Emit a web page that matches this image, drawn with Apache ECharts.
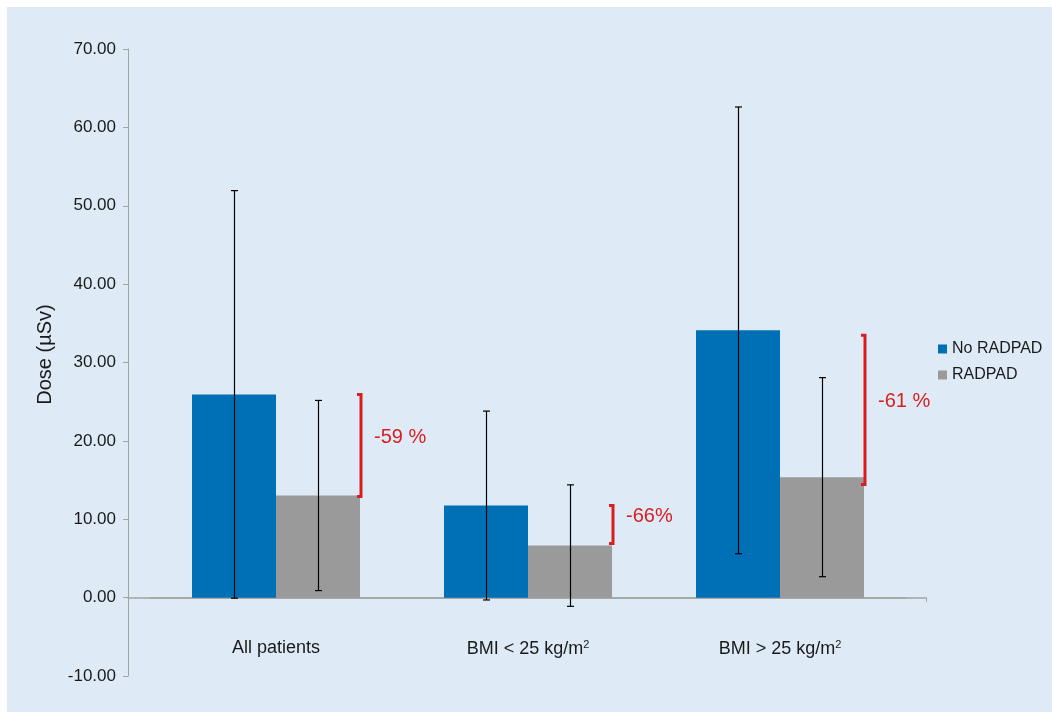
<!DOCTYPE html>
<html>
<head>
<meta charset="utf-8">
<script src="https://cdn.jsdelivr.net/npm/echarts@6/dist/echarts.min.js"></script>
<style>
html,body{margin:0;padding:0;background:#ffffff;}
#chart{width:1052px;height:713px;}
</style>
</head>
<body>
<div id="chart"></div>
<script>
// ---- data ----
var categoryBase = ['All patients', 'BMI < 25 kg/m', 'BMI > 25 kg/m'];
var categorySup = ['', '2', '2'];
var seriesNames = ['No RADPAD', 'RADPAD'];
var noRadpad = [25.93, 11.75, 34.1];
var noRadpadSD = [26.0, 12.05, 28.5];
var radpad = [13.03, 6.64, 15.37];
var radpadSD = [12.13, 7.75, 12.7];
var bracketTop = [25.93, 11.75, 33.47];
var bracketBottom = [12.9, 6.9, 14.43];
var reductionLabels = ['-59 %', '-66%', '-61 %'];
var yTicks = { min: -10, max: 70, interval: 10 };

var BLUE = '#0070b6', GRAY = '#9a9a9a', RED = '#d81e1e', AXIS = '#a3a3a3', TXT = '#1a1a1a';
var FONT = '"Liberation Sans", Arial, sans-serif';

var chart = echarts.init(document.getElementById('chart'), null, { renderer: 'canvas' });

function errData(vals, sds) {
  return vals.map(function (v, i) { return [i, v - sds[i], v + sds[i]]; });
}
function errRender(side) {
  return function (params, api) {
    var i = api.value(0);
    var band = api.size([1, 0])[0];
    var lo = api.coord([i, api.value(1)]);
    var hi = api.coord([i, api.value(2)]);
    var x = Math.round(lo[0] + side * band / 6) + 0.5;
    var cap = 3.5;
    var st = { stroke: '#000', lineWidth: 1.2 };
    return {
      type: 'group',
      children: [
        { type: 'line', shape: { x1: x, y1: hi[1], x2: x, y2: lo[1] }, style: st },
        { type: 'line', shape: { x1: x - cap, y1: hi[1], x2: x + cap, y2: hi[1] }, style: st },
        { type: 'line', shape: { x1: x - cap, y1: lo[1], x2: x + cap, y2: lo[1] }, style: st }
      ]
    };
  };
}

var option = {
  backgroundColor: 'transparent',
  animation: false,
  graphic: [
    { type: 'rect', z: -10, shape: { x: 7, y: 7, width: 1045, height: 705 }, style: { fill: '#deebf7' } }
  ],
  legend: {
    orient: 'vertical',
    left: 938, top: 341,
    padding: 0,
    itemGap: 10,
    itemWidth: 9, itemHeight: 9,
    icon: 'rect',
    data: seriesNames,
    textStyle: { fontSize: 16, color: TXT, fontFamily: FONT }
  },
  grid: [
    { left: 150, right: 146, top: 49, bottom: 37, outerBoundsMode: 'none', containLabel: false },
    { left: 128, right: 126, top: 49, bottom: 37, outerBoundsMode: 'none', containLabel: false }
  ],
  xAxis: [
    {
      type: 'category', gridIndex: 0,
      data: categoryBase,
      axisLine: { show: true, onZero: true, lineStyle: { color: AXIS, width: 1.5 } },
      axisTick: { show: false },
      axisLabel: {
        margin: -37,
        formatter: function (v, i) {
          return '{a|' + v + '}' + (categorySup[i] ? '{s|' + categorySup[i] + '}' : '');
        },
        rich: {
          a: { fontSize: 18, color: TXT, fontFamily: FONT },
          s: { fontSize: 11, color: TXT, fontFamily: FONT, padding: [0, 0, 9, 0] }
        }
      }
    },
    {
      type: 'value', gridIndex: 1, min: 0, max: 1, interval: 1,
      axisLine: { show: true, onZero: true, lineStyle: { color: AXIS, width: 1.5 } },
      axisTick: { show: true, length: 4, lineStyle: { color: AXIS } },
      axisLabel: { show: false },
      splitLine: { show: false }
    }
  ],
  yAxis: [
    {
      type: 'value', gridIndex: 0,
      min: yTicks.min, max: yTicks.max, interval: yTicks.interval,
      offset: 22,
      name: 'Dose (\u00b5Sv)',
      nameLocation: 'middle',
      nameGap: 73,
      nameTextStyle: { fontSize: 20, color: TXT, fontFamily: FONT, padding: [0, 0, 0, 16] },
      axisLine: { show: true, lineStyle: { color: AXIS, width: 1 } },
      axisTick: { show: true, length: 5, lineStyle: { color: AXIS } },
      splitLine: { show: false },
      axisLabel: {
        margin: 12,
        fontSize: 17, color: TXT, fontFamily: FONT,
        formatter: function (v) { return v.toFixed(2); }
      }
    },
    {
      type: 'value', gridIndex: 1, min: yTicks.min, max: yTicks.max, interval: yTicks.interval,
      show: false
    }
  ],
  series: [
    {
      name: seriesNames[0], type: 'bar', xAxisIndex: 0, yAxisIndex: 0,
      data: noRadpad, itemStyle: { color: BLUE },
      barGap: '0%', barCategoryGap: '33.33%'
    },
    {
      name: seriesNames[1], type: 'bar', xAxisIndex: 0, yAxisIndex: 0,
      data: radpad, itemStyle: { color: GRAY },
      barGap: '0%', barCategoryGap: '33.33%'
    },
    {
      type: 'custom', xAxisIndex: 0, yAxisIndex: 0, z: 5,
      renderItem: errRender(-1), data: errData(noRadpad, noRadpadSD),
      encode: { x: 0, y: [1, 2] }, silent: true
    },
    {
      type: 'custom', xAxisIndex: 0, yAxisIndex: 0, z: 5,
      renderItem: errRender(1), data: errData(radpad, radpadSD),
      encode: { x: 0, y: [1, 2] }, silent: true
    },
    {
      type: 'custom', xAxisIndex: 0, yAxisIndex: 0, z: 6, silent: true,
      data: bracketTop.map(function (t, i) { return [i, t, bracketBottom[i]]; }),
      encode: { x: 0, y: [1, 2] },
      renderItem: function (params, api) {
        var i = api.value(0);
        var band = api.size([1, 0])[0];
        var pt = api.coord([i, api.value(1)]);
        var pb = api.coord([i, api.value(2)]);
        var x = pt[0] + band / 3 + 1;
        var hook = 4;
        return {
          type: 'group',
          children: [
            {
              type: 'polyline',
              shape: { points: [[x - hook, pt[1]], [x, pt[1]], [x, pb[1]], [x - hook, pb[1]]] },
              style: { stroke: RED, lineWidth: 3, fill: null, lineJoin: 'miter' }
            },
            {
              type: 'text',
              style: {
                x: x + 13, y: (pt[1] + pb[1]) / 2 - 8,
                text: reductionLabels[i],
                fill: RED, fontSize: 20, fontFamily: FONT,
                align: 'left', verticalAlign: 'middle'
              }
            }
          ]
        };
      }
    }
  ]
};
chart.setOption(option);
</script>
</body>
</html>
